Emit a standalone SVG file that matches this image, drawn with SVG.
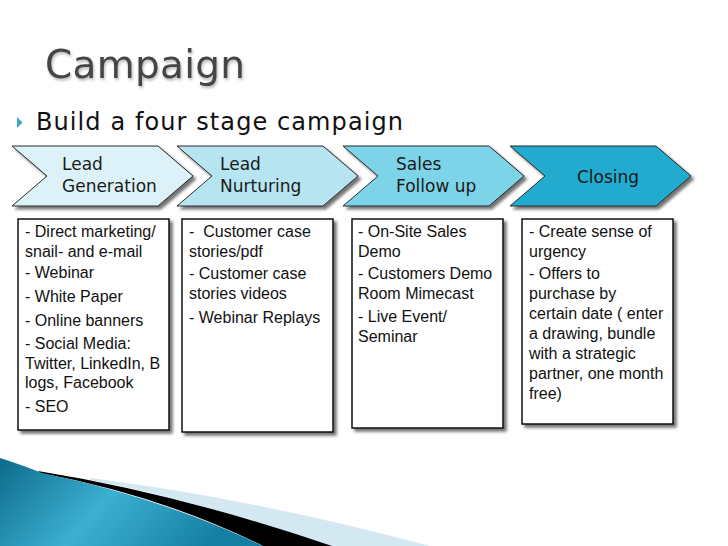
<svg xmlns="http://www.w3.org/2000/svg" width="728" height="546" viewBox="0 0 728 546">
<defs>
<style>
.title{font-family:"DejaVu Sans","Open Sans",sans-serif;font-size:39px;fill:#454545}
.bullet{font-family:"DejaVu Sans","Open Sans",sans-serif;font-size:24px;fill:#111}
.chev{stroke:#2a2a2a;stroke-width:1}
.ctext{font-family:"DejaVu Sans","Open Sans",sans-serif;font-size:17px;fill:#1a1a1a}
.box{fill:#fff;stroke:#111;stroke-width:1.5}
.btext{font-family:"Liberation Sans",Arial,sans-serif;font-size:16px;fill:#111}
</style>
<filter id="sh" x="-10%" y="-10%" width="125%" height="130%">
<feGaussianBlur in="SourceAlpha" stdDeviation="1.5"/>
<feOffset dx="3" dy="3" result="b"/>
<feComponentTransfer><feFuncA type="linear" slope="0.55"/></feComponentTransfer>
<feMerge><feMergeNode/><feMergeNode in="SourceGraphic"/></feMerge>
</filter>
<filter id="tsh" x="-5%" y="-20%" width="115%" height="150%">
<feGaussianBlur in="SourceAlpha" stdDeviation="1.5"/>
<feOffset dx="1" dy="2"/>
<feComponentTransfer><feFuncA type="linear" slope="0.3"/></feComponentTransfer>
<feMerge><feMergeNode/><feMergeNode in="SourceGraphic"/></feMerge>
</filter>
<linearGradient id="teal" x1="0" y1="0" x2="1" y2="0.3">
<stop offset="0" stop-color="#0d6a8a"/>
<stop offset="0.5" stop-color="#3cb0d2"/>
<stop offset="1" stop-color="#157fa3"/>
</linearGradient>
</defs>
<rect width="728" height="546" fill="#fff"/>
<g id="title"><text class="title" x="45" y="78" textLength="200" lengthAdjust="spacing" filter="url(#tsh)">Campaign</text></g>
<g id="bullet">
<polygon points="17,117 22.5,122.5 17,128" fill="#3ea5c6"/>
<text class="bullet" x="36" y="130" textLength="367" lengthAdjust="spacing">Build a four stage campaign</text>
</g>
<g id="chevron-lead-generation">
<path class="chev" filter="url(#sh)" fill="#dcf2f8" d="M12,146 L158,146 L193,176 L158,206 L12,206 L47,176 Z"/>
<text class="ctext" x="62" y="170">Lead</text>
<text class="ctext" x="62" y="192">Generation</text>
</g>
<g id="chevron-lead-nurturing">
<path class="chev" filter="url(#sh)" fill="#b6e4f0" d="M177,146 L323,146 L358,176 L323,206 L177,206 L212,176 Z"/>
<text class="ctext" x="220" y="170">Lead</text>
<text class="ctext" x="220" y="192">Nurturing</text>
</g>
<g id="chevron-sales-follow-up">
<path class="chev" filter="url(#sh)" fill="#7dd4e9" d="M343,146 L489,146 L524,176 L489,206 L343,206 L378,176 Z"/>
<text class="ctext" x="396" y="170">Sales</text>
<text class="ctext" x="396" y="192">Follow up</text>
</g>
<g id="chevron-closing">
<path class="chev" filter="url(#sh)" fill="#22abcf" d="M510,146 L656,146 L691,176 L656,206 L510,206 L545,176 Z"/>
<text class="ctext" x="577" y="183">Closing</text>
</g>
<g id="box-lead-generation">
<rect class="box" filter="url(#sh)" x="18" y="219" width="151" height="211"/>
<text class="btext" x="25" y="237">- Direct marketing/</text>
<text class="btext" x="25" y="257">snail- and e-mail</text>
<text class="btext" x="25" y="278">- Webinar</text>
<text class="btext" x="25" y="302">- White Paper</text>
<text class="btext" x="25" y="326">- Online banners</text>
<text class="btext" x="25" y="349">- Social Media:</text>
<text class="btext" x="25" y="369">Twitter, LinkedIn, B</text>
<text class="btext" x="25" y="388">logs, Facebook</text>
<text class="btext" x="25" y="412">- SEO</text>
</g>
<g id="box-lead-nurturing">
<rect class="box" filter="url(#sh)" x="182" y="219" width="151" height="213"/>
<text class="btext" x="189" y="237" xml:space="preserve">-  Customer case</text>
<text class="btext" x="189" y="257">stories/pdf</text>
<text class="btext" x="189" y="279">- Customer case</text>
<text class="btext" x="189" y="299">stories videos</text>
<text class="btext" x="189" y="323">- Webinar Replays</text>
</g>
<g id="box-sales-follow-up">
<rect class="box" filter="url(#sh)" x="352" y="219" width="151" height="209"/>
<text class="btext" x="358" y="237">- On-Site Sales</text>
<text class="btext" x="358" y="257">Demo</text>
<text class="btext" x="358" y="279">- Customers Demo</text>
<text class="btext" x="358" y="299">Room Mimecast</text>
<text class="btext" x="358" y="322">- Live Event/</text>
<text class="btext" x="358" y="342">Seminar</text>
</g>
<g id="box-closing">
<rect class="box" filter="url(#sh)" x="522" y="219" width="151" height="205"/>
<text class="btext" x="529" y="237">- Create sense of</text>
<text class="btext" x="529" y="257">urgency</text>
<text class="btext" x="529" y="279">- Offers to</text>
<text class="btext" x="529" y="299">purchase by</text>
<text class="btext" x="529" y="319">certain date ( enter</text>
<text class="btext" x="529" y="339">a drawing, bundle</text>
<text class="btext" x="529" y="359">with a strategic</text>
<text class="btext" x="529" y="379">partner, one month</text>
<text class="btext" x="529" y="399">free)</text>
</g>
<g id="connectors"></g>
<g id="swoosh">
<path fill="#d3e8f0" d="M90,478 Q250,498 430,546 L320,546 Q200,500 90,480 Z"/>
<path fill="#000" d="M38,471 Q180,494 332,546 L263,546 Q160,495 40,473 Z"/>
<path fill="url(#teal)" d="M0,458 Q25,466 42,473 Q160,497 263,546 L0,546 Z"/>
</g>
</svg>
